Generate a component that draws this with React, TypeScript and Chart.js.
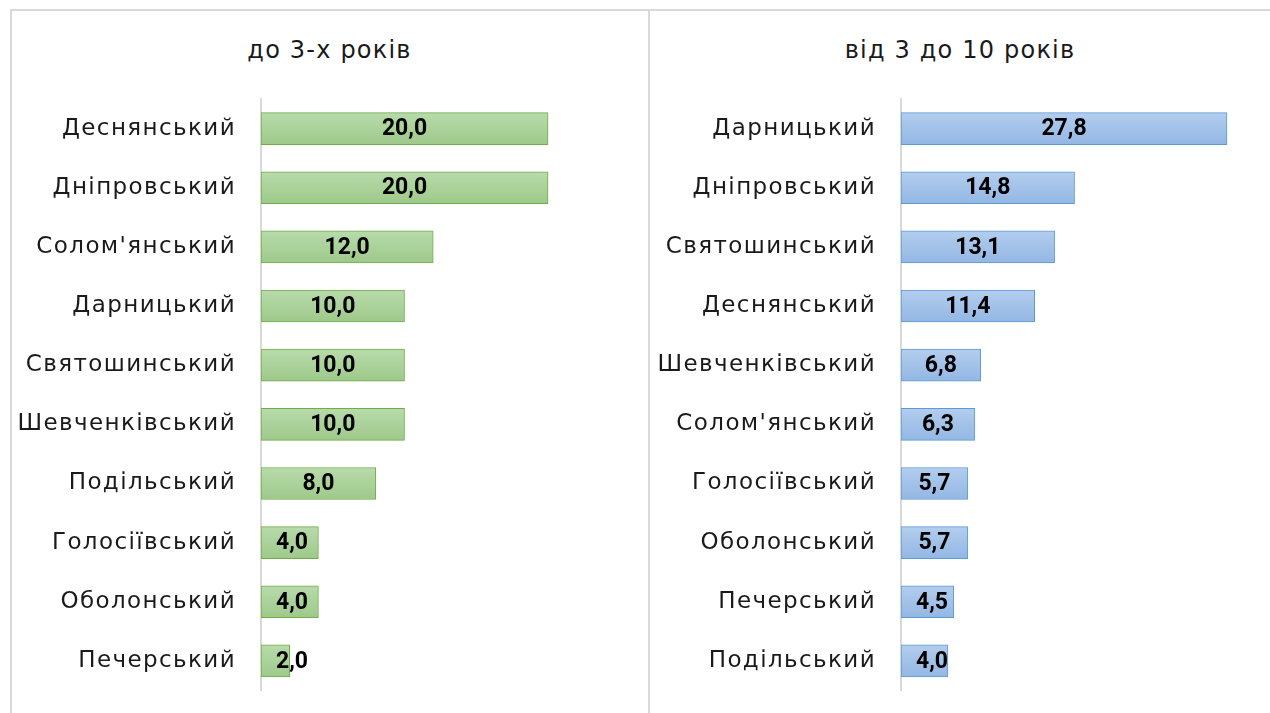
import React, { useEffect, useRef } from "react";
import { Chart, registerables } from "chart.js";

Chart.register(...registerables);

const leftTitle = "до 3-х років";
const leftCategories = [
  "Деснянський",
  "Дніпровський",
  "Солом'янський",
  "Дарницький",
  "Святошинський",
  "Шевченківський",
  "Подільський",
  "Голосіївський",
  "Оболонський",
  "Печерський",
];
const leftValues = [20.0, 20.0, 12.0, 10.0, 10.0, 10.0, 8.0, 4.0, 4.0, 2.0];

const rightTitle = "від 3 до 10 років";
const rightCategories = [
  "Дарницький",
  "Дніпровський",
  "Святошинський",
  "Деснянський",
  "Шевченківський",
  "Солом'янський",
  "Голосіївський",
  "Оболонський",
  "Печерський",
  "Подільський",
];
const rightValues = [27.8, 14.8, 13.1, 11.4, 6.8, 6.3, 5.7, 5.7, 4.5, 4.0];

const FONT = "'DejaVu Sans', sans-serif";
const LABEL_FONT = "Roboto, sans-serif";

const spacingPlugin = {
  id: "letterSpacing",
  beforeDraw(chart: any) {
    (chart.ctx as any).letterSpacing = "1.4px";
  },
  afterDraw(chart: any) {
    (chart.ctx as any).letterSpacing = "0px";
  },
};

const labelPlugin = {
  id: "barLabels",
  afterDatasetsDraw(chart: any) {
    const ctx = chart.ctx;
    const meta = chart.getDatasetMeta(0);
    const data = chart.data.datasets[0].data as number[];
    ctx.save();
    (ctx as any).letterSpacing = "0px";
    ctx.font = `bold 23px ${LABEL_FONT}`;
    ctx.fillStyle = "#000";
    ctx.textBaseline = "middle";
    ctx.textAlign = "left";
    meta.data.forEach((bar: any, i: number) => {
      const txt = data[i].toFixed(1).replace(".", ",");
      const w = ctx.measureText(txt).width;
      const center = (bar.base + bar.x) / 2;
      const left = Math.max(center - w / 2, bar.base + 15);
      ctx.fillText(txt, left, bar.y + 1);
    });
    ctx.restore();
  },
};

function makeGradient(top: string, bottom: string) {
  return (c: any) => {
    const chart = c.chart;
    const ys = chart.scales?.y;
    if (!ys || c.dataIndex === undefined) return top;
    const yc = ys.getPixelForValue(c.dataIndex);
    if (!isFinite(yc)) return top;
    const h = 32;
    const g = chart.ctx.createLinearGradient(0, yc - h / 2, 0, yc + h / 2);
    g.addColorStop(0, top);
    g.addColorStop(1, bottom);
    return g;
  };
}

function BarPanel(props: {
  categories: string[];
  values: number[];
  max: number;
  axisWidth: number;
  padRight: number;
  top: string;
  bottom: string;
  border: string;
  width: number;
}) {
  const ref = useRef<HTMLCanvasElement | null>(null);
  useEffect(() => {
    if (!ref.current) return;
    const chart = new Chart(ref.current, {
      type: "bar",
      data: {
        labels: props.categories,
        datasets: [
          {
            data: props.values,
            backgroundColor: makeGradient(props.top, props.bottom) as any,
            borderColor: props.border,
            borderWidth: 1,
            borderSkipped: false,
            barThickness: 32,
          },
        ],
      },
      options: {
        indexAxis: "y",
        responsive: false,
        animation: false,
        maintainAspectRatio: false,
        layout: { padding: { top: 89, bottom: 22.5, left: 0, right: props.padRight } },
        plugins: { legend: { display: false }, tooltip: { enabled: false }, title: { display: false } },
        scales: {
          x: { display: false, min: 0, max: props.max },
          y: {
            afterFit: (s: any) => {
              s.width = props.axisWidth;
              s.paddingTop = 0;
              s.paddingBottom = 0;
            },
            grid: { display: false, drawTicks: false },
            border: { display: true, color: "#d9d9d9", width: 2 },
            ticks: {
              padding: 25,
              color: "#1a1a1a",
              font: { family: FONT, size: 23 },
            },
          },
        },
      },
      plugins: [spacingPlugin, labelPlugin],
    });
    chart.update();
    return () => chart.destroy();
  }, []);
  return <canvas ref={ref} width={props.width} height={703} style={{ display: "block", width: props.width, height: 703 }} />;
}

export default function App() {
  const lineColor = "#d9d9d9";
  const titleStyle: React.CSSProperties = {
    position: "absolute",
    top: 33,
    textAlign: "center",
    fontFamily: FONT,
    fontSize: 24,
    letterSpacing: "1.2px",
    color: "#1a1a1a",
    lineHeight: "34px",
  };
  return (
    <div style={{ position: "absolute", left: 0, top: 0, width: 1270, height: 713, background: "#fff", overflow: "hidden" }}>
      <div style={{ position: "absolute", left: 10, top: 9, width: 1260, height: 2, background: lineColor }} />
      <div style={{ position: "absolute", left: 10, top: 9, width: 2, height: 704, background: lineColor }} />
      <div style={{ position: "absolute", left: 648, top: 9, width: 2, height: 704, background: lineColor }} />
      <div style={{ ...titleStyle, left: 11, width: 637 }}>{leftTitle}</div>
      <div style={{ ...titleStyle, left: 650, width: 620 }}>{rightTitle}</div>
      <div style={{ position: "absolute", left: 11, top: 10 }}>
        <BarPanel
          categories={leftCategories}
          values={leftValues}
          max={25}
          axisWidth={250}
          padRight={28.2}
          top="#b8dbab"
          bottom="#9ec98a"
          border="#70ad47"
          width={637}
        />
      </div>
      <div style={{ position: "absolute", left: 650, top: 10 }}>
        <BarPanel
          categories={rightCategories}
          values={rightValues}
          max={30}
          axisWidth={251}
          padRight={17.2}
          top="#b3cdee"
          bottom="#93b7e4"
          border="#5b9bd5"
          width={620}
        />
      </div>
    </div>
  );
}
